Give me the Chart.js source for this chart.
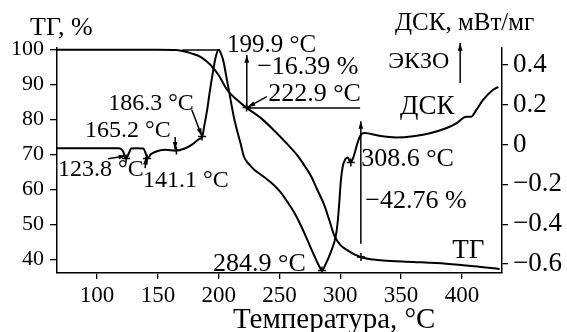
<!DOCTYPE html>
<html>
<head>
<meta charset="utf-8">
<script src="https://cdn.jsdelivr.net/npm/chart.js@4"></script>
<style>
  html, body { margin: 0; padding: 0; background: #fff; }
  canvas { display: block; }
</style>
</head>
<body>
<canvas id="dscChart" width="567" height="332"></canvas>
<script>
// TG curve, % (left axis)
const tgTemps = [67, 100, 150, 165, 172, 178, 185, 190, 195, 200, 207, 215, 223, 235, 248, 258, 265, 270, 276, 281, 287, 291, 295, 300, 306, 312, 318, 327, 335, 360, 387, 410, 431];
const tgValues = [99.9, 99.9, 99.9, 99.8, 99.4, 98.8, 97.9, 96.6, 94.9, 92.6, 88.4, 85.6, 83.3, 80.3, 76.0, 72.4, 69.6, 67.1, 63.8, 60.0, 55.4, 51.2, 46.9, 44.2, 42.6, 41.4, 40.6, 40.0, 39.7, 39.3, 38.8, 38.1, 37.3];

// DSC curve, mW/mg (right axis)
const dscTemps = [67, 100, 118, 121, 124, 126, 128, 132, 138, 140, 141.5, 144, 148, 156, 165, 172, 178, 181, 184, 186.5, 188, 190.5, 192.5, 194.6, 197.3, 200, 202, 204.2, 206, 208.3, 212.4, 216, 218, 220.7, 225, 229, 237, 245.5, 251, 256.5, 262, 267.5, 273, 278.5, 283, 285, 288, 292.2, 296.4, 298, 299, 300.5, 302, 304, 306, 308.6, 311, 314, 317, 320, 332, 346, 360, 373, 387, 395.4, 403.6, 407.7, 411.9, 417.4, 425.7, 430];
const dscValues = [-0.018, -0.018, -0.018, -0.03, -0.07, -0.045, -0.02, -0.018, -0.02, -0.045, -0.07, -0.05, -0.036, -0.026, -0.03, -0.02, 0.0, 0.014, 0.028, 0.04, 0.09, 0.174, 0.26, 0.34, 0.434, 0.476, 0.455, 0.41, 0.35, 0.275, 0.14, 0.05, 0.006, -0.06, -0.1, -0.125, -0.162, -0.204, -0.24, -0.288, -0.34, -0.405, -0.48, -0.557, -0.615, -0.632, -0.6, -0.54, -0.456, -0.38, -0.305, -0.18, -0.11, -0.075, -0.065, -0.09, -0.06, 0.005, 0.05, 0.058, 0.044, 0.036, 0.042, 0.056, 0.082, 0.107, 0.14, 0.14, 0.174, 0.224, 0.275, 0.29];

const xTicks = [100, 150, 200, 250, 300, 350, 400];
const tgTicks = [40, 50, 60, 70, 80, 90, 100];
const dscTicks = [-0.6, -0.4, -0.2, 0, 0.2, 0.4];
const dscTickLabels = ['\u22120.6', '\u22120.4', '\u22120.2', '0', '0.2', '0.4'];

// marked points on the curves
const dscMarkTemps = [123.8, 141.1, 165.2, 186.3, 284.9, 308.6];
const dscMarkValues = [-0.07, -0.07, -0.03, 0.04, -0.632, -0.09];
const tgMarkTemps = [222.9, 317];
const tgMarkValues = [83.4, 40.7];

// annotation texts: text, temperature, TG level (left edge, baseline), font size
const noteTexts = [
  ['199.9 \u00b0C', 206.9, 99.2, 25],
  ['\u221216.39 %', 231.6, 92.9, 26],
  ['222.9 \u00b0C', 240.7, 85.2, 26],
  ['186.3 \u00b0C', 109.1, 82.8, 24],
  ['165.2 \u00b0C', 90.1, 75.1, 24],
  ['123.8 \u00b0C', 67.9, 63.8, 24],
  ['141.1 \u00b0C', 137.8, 60.7, 24],
  ['284.9 \u00b0C', 195.4, 36.7, 26],
  ['308.6 \u00b0C', 317.2, 66.7, 26],
  ['\u221242.76 %', 320.5, 54.7, 26],
  ['\u0414\u0421\u041a', 349.2, 81.5, 27],
  ['\u0422\u0413', 392, 40.4, 27],
  ['\u042d\u041a\u0417\u041e', 339.4, 94.6, 24]
];

// leader lines and arrows: t1, tg1, t2, tg2, arrow head at end
const leaders = [
  [170, 99.8, 200, 99.8, false],
  [223.1, 83.3, 223.1, 98.4, true],
  [223.1, 83.3, 316.3, 83.3, false],
  [239.6, 86.5, 223.8, 83.5, true],
  [177.9, 82.7, 186.1, 75.3, true],
  [164.2, 75.0, 164.2, 71.4, true],
  [109.1, 68.8, 124.0, 69.6, true],
  [139.5, 66.1, 140.3, 69.3, true],
  [316.9, 44.5, 316.9, 79.5, true],
  [398.6, 90.4, 398.6, 101.8, true]
];

// axis titles (canvas px)
const titles = [
  ['\u0422\u0413, %', 30, 35, 26],
  ['\u0414\u0421\u041a, \u043c\u0412\u0442/\u043c\u0433', 395, 30, 25],
  ['\u0422\u0435\u043c\u043f\u0435\u0440\u0430\u0442\u0443\u0440\u0430, \u00b0C', 233, 328, 29]
];

const FONT = '"Liberation Serif", "Times New Roman", serif';
Chart.defaults.font.family = FONT;
Chart.defaults.color = '#000';

const annotate = {
  id: 'annotate',
  afterDatasetsDraw(chart) {
    const ctx = chart.ctx;
    const x = chart.scales.x, y = chart.scales.y;
    ctx.save();
    ctx.strokeStyle = '#000';
    ctx.fillStyle = '#000';
    ctx.lineWidth = 1.5;
    leaders.forEach(([t1, v1, t2, v2, head]) => {
      const x1 = x.getPixelForValue(t1), y1 = y.getPixelForValue(v1);
      const x2 = x.getPixelForValue(t2), y2 = y.getPixelForValue(v2);
      ctx.beginPath();
      ctx.moveTo(x1, y1);
      ctx.lineTo(x2, y2);
      ctx.stroke();
      if (head) {
        const a = Math.atan2(y2 - y1, x2 - x1);
        ctx.beginPath();
        ctx.moveTo(x2, y2);
        ctx.lineTo(x2 - 8 * Math.cos(a - 0.3), y2 - 8 * Math.sin(a - 0.3));
        ctx.lineTo(x2 - 8 * Math.cos(a + 0.3), y2 - 8 * Math.sin(a + 0.3));
        ctx.closePath();
        ctx.fill();
      }
    });
    ctx.textBaseline = 'alphabetic';
    ctx.textAlign = 'left';
    noteTexts.forEach(([text, t, v, size]) => {
      ctx.font = size + 'px ' + FONT;
      ctx.fillText(text, x.getPixelForValue(t), y.getPixelForValue(v));
    });
    titles.forEach(([text, px, py, size]) => {
      ctx.font = size + 'px ' + FONT;
      ctx.fillText(text, px, py);
    });
    ctx.restore();
  }
};

const axisGrid = { drawOnChartArea: false, drawTicks: true, tickLength: 7, color: '#000', lineWidth: 1.3 };
const axisBorder = { display: true, color: '#000', width: 1.5 };

new Chart(document.getElementById('dscChart'), {
  type: 'line',
  data: {
    datasets: [
      {
        label: 'TG',
        data: tgTemps.map((t, i) => ({ x: t, y: tgValues[i] })),
        yAxisID: 'y',
        borderColor: '#000',
        borderWidth: 2,
        pointRadius: 0,
        cubicInterpolationMode: 'monotone'
      },
      {
        label: 'DSC',
        data: dscTemps.map((t, i) => ({ x: t, y: dscValues[i] })),
        yAxisID: 'y2',
        borderColor: '#000',
        borderWidth: 2,
        pointRadius: 0,
        cubicInterpolationMode: 'monotone'
      },
      {
        label: 'DSC marks',
        data: dscMarkTemps.map((t, i) => ({ x: t, y: dscMarkValues[i] })),
        yAxisID: 'y2',
        showLine: false,
        pointStyle: 'cross',
        pointRadius: 4,
        pointBorderWidth: 1.5,
        borderColor: '#000'
      },
      {
        label: 'TG marks',
        data: tgMarkTemps.map((t, i) => ({ x: t, y: tgMarkValues[i] })),
        yAxisID: 'y',
        showLine: false,
        pointStyle: 'cross',
        pointRadius: 4,
        pointBorderWidth: 1.5,
        borderColor: '#000'
      }
    ]
  },
  options: {
    responsive: false,
    animation: false,
    devicePixelRatio: 1,
    layout: { padding: { top: 48, left: 0, right: 0, bottom: 0 } },
    plugins: {
      legend: { display: false },
      tooltip: { enabled: false }
    },
    scales: {
      x: {
        type: 'linear',
        position: 'bottom',
        min: 67,
        max: 433,
        afterBuildTicks: s => { s.ticks = xTicks.map(v => ({ value: v })); },
        afterFit: s => { s.height = 59; },
        grid: { ...axisGrid, tickLength: 6 },
        border: axisBorder,
        ticks: { font: { size: 23 }, padding: 3, maxRotation: 0 }
      },
      y: {
        type: 'linear',
        position: 'left',
        min: 36.15,
        max: 100.4,
        afterBuildTicks: s => { s.ticks = tgTicks.map(v => ({ value: v })); },
        afterFit: s => { s.width = 57; },
        grid: axisGrid,
        border: axisBorder,
        ticks: { font: { size: 22 }, padding: 6 }
      },
      y2: {
        type: 'linear',
        position: 'right',
        min: -0.645,
        max: 0.485,
        afterBuildTicks: s => { s.ticks = dscTicks.map(v => ({ value: v })); },
        afterFit: s => { s.width = 65; },
        grid: { ...axisGrid, tickLength: 6 },
        border: axisBorder,
        ticks: {
          font: { size: 27 },
          padding: 5,
          callback: v => dscTickLabels[dscTicks.findIndex(d => Math.abs(d - v) < 1e-6)]
        }
      }
    }
  },
  plugins: [annotate]
});
</script>
</body>
</html>
